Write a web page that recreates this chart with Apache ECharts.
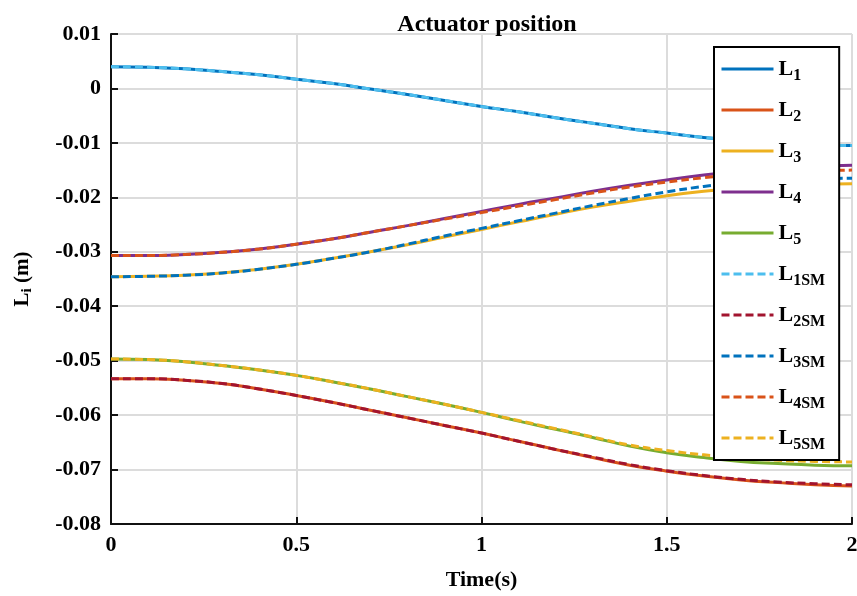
<!DOCTYPE html>
<html><head><meta charset="utf-8">
<script src="https://cdn.jsdelivr.net/npm/echarts@6/dist/echarts.min.js"></script>
<style>html,body{margin:0;padding:0;background:#fff}#c{width:857px;height:596px}</style>
</head><body><div id="c"></div>
<script>
const times = [0,0.1,0.2,0.3,0.4,0.5,0.6,0.7,0.8,0.9,1.0,1.1,1.2,1.3,1.4,1.5,1.6,1.7,1.8,1.9,2.0];
const L1   = [0.0040,0.0039,0.0036,0.0031,0.0025,0.0017,0.0009,-0.0001,-0.0011,-0.0022,-0.0033,-0.0043,-0.0054,-0.0064,-0.0074,-0.0082,-0.0090,-0.0096,-0.0101,-0.0104,-0.0105];
const L1SM = [0.0040,0.0039,0.0036,0.0031,0.0025,0.0017,0.0009,-0.0001,-0.0011,-0.0022,-0.0033,-0.0043,-0.0054,-0.0064,-0.0074,-0.0082,-0.0090,-0.0096,-0.0101,-0.0104,-0.0105];
const L2   = [-0.0533,-0.0533,-0.0536,-0.0542,-0.0552,-0.0564,-0.0577,-0.0591,-0.0605,-0.0619,-0.0633,-0.0648,-0.0663,-0.0678,-0.0692,-0.0703,-0.0712,-0.0719,-0.0724,-0.0728,-0.0730];
const L2SM = [-0.0533,-0.0533,-0.0536,-0.0542,-0.0552,-0.0564,-0.0577,-0.0591,-0.0605,-0.0619,-0.0633,-0.0648,-0.0663,-0.0677,-0.0691,-0.0702,-0.0711,-0.0718,-0.0723,-0.0726,-0.0728];
const L3   = [-0.0346,-0.0345,-0.0343,-0.0339,-0.0332,-0.0323,-0.0312,-0.0300,-0.0287,-0.0273,-0.0259,-0.0245,-0.0231,-0.0218,-0.0207,-0.0197,-0.0189,-0.0183,-0.0179,-0.0176,-0.0175];
const L3SM = [-0.0346,-0.0345,-0.0343,-0.0339,-0.0332,-0.0323,-0.0312,-0.0300,-0.0286,-0.0271,-0.0257,-0.0243,-0.0229,-0.0215,-0.0202,-0.0190,-0.0180,-0.0173,-0.0168,-0.0166,-0.0165];
const L4   = [-0.0307,-0.0307,-0.0305,-0.0301,-0.0295,-0.0286,-0.0276,-0.0264,-0.0252,-0.0239,-0.0226,-0.0213,-0.0201,-0.0189,-0.0178,-0.0168,-0.0159,-0.0152,-0.0146,-0.0143,-0.0141];
const L4SM = [-0.0307,-0.0307,-0.0305,-0.0301,-0.0295,-0.0286,-0.0276,-0.0264,-0.0252,-0.0240,-0.0228,-0.0216,-0.0204,-0.0192,-0.0181,-0.0172,-0.0164,-0.0158,-0.0153,-0.0151,-0.0150];
const L5   = [-0.0497,-0.0498,-0.0502,-0.0509,-0.0517,-0.0527,-0.0539,-0.0552,-0.0566,-0.0580,-0.0595,-0.0611,-0.0626,-0.0641,-0.0657,-0.0669,-0.0678,-0.0685,-0.0689,-0.0692,-0.0693];
const L5SM = [-0.0497,-0.0498,-0.0502,-0.0509,-0.0517,-0.0527,-0.0539,-0.0552,-0.0566,-0.0580,-0.0595,-0.0610,-0.0625,-0.0640,-0.0655,-0.0665,-0.0673,-0.0679,-0.0683,-0.0685,-0.0686];
const xTicks = ['0','0.5','1','1.5','2'];
const seriesNames = ['L1','L2','L3','L4','L5','L1SM','L2SM','L3SM','L4SM','L5SM'];
const seriesData = [L1,L2,L3,L4,L5,L1SM,L2SM,L3SM,L4SM,L5SM];
const colors = ['#0072BD','#D95319','#EDB120','#7E2F8E','#77AC30','#4DBEEE','#A2142F','#0072BD','#D95319','#EDB120'];

const font = "'Liberation Serif','Times New Roman',serif";
const chart = echarts.init(document.getElementById('c'));
const series = seriesNames.map((n,i)=>({
  name:n, type:'line', showSymbol:false, symbol:'none', smooth:true,
  data: times.map((t,k)=>[t, seriesData[i][k]]),
  lineStyle:{color:colors[i], width:3, type: i>=5 ? [8,4] : 'solid'},
  itemStyle:{color:colors[i]}
}));
chart.setOption({
  animation:false,
  backgroundColor:'#fff',
  title:{text:'Actuator position', left:482, top:8, textAlign:'center',
    textStyle:{fontFamily:font, fontWeight:'bold', fontSize:24, color:'#000'}},
  grid:{left:111, right:5, top:34, bottom:72, containLabel:false, outerBoundsMode:'none'},
  legend:{
    z:50,
    orient:'vertical', left:714, top:47,
    padding:[7,14,7,6], itemGap:11, itemWidth:52, itemHeight:14,
    borderColor:'#000', borderWidth:2, backgroundColor:'#fff',
    itemStyle:{opacity:0},
    lineStyle:{width:3},
    formatter: function(n){ return '{b|L}{s|' + n.slice(1) + '}'; },
    textStyle:{fontFamily:font, fontWeight:'bold', color:'#000',
      rich:{
        b:{fontFamily:font, fontWeight:'bold', fontSize:22, color:'#000', lineHeight:30},
        s:{fontFamily:font, fontWeight:'bold', fontSize:16, color:'#000', padding:[14,0,0,0], lineHeight:30}
      }}
  },
  xAxis:{type:'value', min:0, max:2, interval:0.5,
    name:'Time(s)', nameLocation:'middle', nameGap:45,
    nameTextStyle:{fontFamily:font, fontWeight:'bold', fontSize:22, color:'#000'},
    axisLine:{onZero:false, lineStyle:{color:'#111', width:2}},
    axisTick:{inside:true, length:7, lineStyle:{color:'#111', width:2}},
    axisLabel:{fontFamily:font, fontWeight:'bold', fontSize:22, color:'#000', margin:10,
      formatter: function(v){ return xTicks[Math.round(v/0.5)]; }},
    splitLine:{show:true, lineStyle:{color:'#dcdcdc', width:2}}
  },
  yAxis:{type:'value', min:-0.08, max:0.01, interval:0.01,
    name:'{b|L}{s|i}{b| (m)}', nameLocation:'middle', nameGap:76, nameRotate:90,
    nameTextStyle:{fontFamily:font, fontWeight:'bold', fontSize:21, color:'#000',
      rich:{b:{fontFamily:font, fontWeight:'bold', fontSize:21, color:'#000'},
            s:{fontFamily:font, fontWeight:'bold', fontSize:15, color:'#000', padding:[10,0,0,0]}}},
    axisLine:{onZero:false, lineStyle:{color:'#111', width:2}},
    axisTick:{inside:true, length:7, lineStyle:{color:'#111', width:2}},
    axisLabel:{fontFamily:font, fontWeight:'bold', fontSize:22, color:'#000', margin:10,
      formatter: function(v){ const r = Math.round(v*100); return r===0 ? '0' : (r/100).toFixed(2); }},
    splitLine:{show:true, lineStyle:{color:'#dcdcdc', width:2}}
  },
  series: series
});
</script></body></html>
